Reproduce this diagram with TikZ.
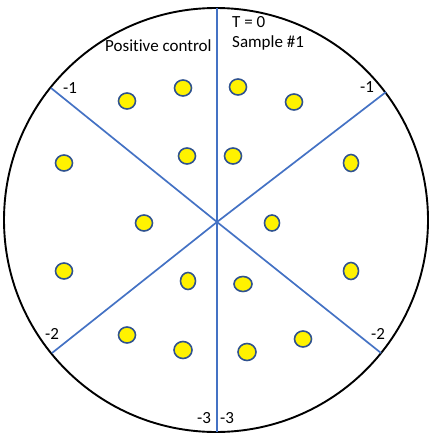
\documentclass[tikz,border=0pt]{standalone}
\usepackage{fontspec}
\setmainfont[Ligatures=NoCommon]{Carlito}
\usetikzlibrary{shapes.geometric}
\definecolor{spoke}{RGB}{68,114,196}
\definecolor{rimdot}{RGB}{47,82,143}

\begin{document}
\begin{tikzpicture}[x=1pt, y=-1pt,
  dot/.style={ellipse, draw=rimdot, line width=1.6pt, fill=yellow, minimum width=17pt, minimum height=16pt, inner sep=0},
  lbl/.style={anchor=base west, inner sep=0, font=\fontsize{17}{20}\selectfont}]
  \useasboundingbox (0,0) rectangle (430,433);
  \draw[line width=1.9pt] (216,220) circle (212);
  % spokes
  \coordinate (hub) at (217,222);
  \coordinate (top) at (217,8);
  \coordinate (bot) at (217,432);
  \coordinate (ul) at (51,88);
  \coordinate (ur) at (386,92);
  \coordinate (ll) at (52,353);
  \coordinate (lr) at (381,353);
  \draw[spoke, line width=1.7pt] (top) -- (bot);
  \draw[spoke, line width=1.7pt] (ul) -- (hub) -- (lr);
  \draw[spoke, line width=1.7pt] (ur) -- (hub) -- (ll);
  % labels
  \node[lbl] (t0) at (232,28) {T = 0};
  \node[lbl] (s1) at (232,48) {Sample \#1};
  \node[lbl] (pc) at (105,52) {Positive control};
  \node[lbl] (m1l) at (63,94) {-1};
  \node[lbl] (m1r) at (360,93) {-1};
  \node[lbl] (m2l) at (45,339) {-2};
  \node[lbl] (m2r) at (371,339) {-2};
  \node[lbl] (m3l) at (197,423) {-3};
  \node[lbl] (m3r) at (220,423) {-3};
  % dots
  \node[dot] (d1) at (127,101) {};
  \node[dot] (d2) at (183,88) {};
  \node[dot] (d3) at (238,87) {};
  \node[dot] (d4) at (294,102) {};
  \node[dot] (d5) at (64,163) {};
  \node[dot] (d6) at (187,156) {};
  \node[dot] (d7) at (233,156) {};
  \node[dot, minimum width=15pt, minimum height=17pt] (d8) at (351,163) {};
  \node[dot] (d9) at (144,223) {};
  \node[dot, minimum width=15pt] (d10) at (272,223) {};
  \node[dot] (d11) at (64,271) {};
  \node[dot, minimum width=15pt, minimum height=17pt] (d12) at (188,281) {};
  \node[dot, minimum width=18pt, minimum height=15pt] (d13) at (243,284) {};
  \node[dot, minimum width=15pt, minimum height=17pt] (d14) at (351,271) {};
  \node[dot] (d15) at (127,335) {};
  \node[dot, minimum width=18pt, minimum height=17pt] (d16) at (183,350) {};
  \node[dot, minimum width=18pt, minimum height=17pt] (d17) at (247,352) {};
  \node[dot] (d18) at (303,339) {};
\end{tikzpicture}
\end{document}
